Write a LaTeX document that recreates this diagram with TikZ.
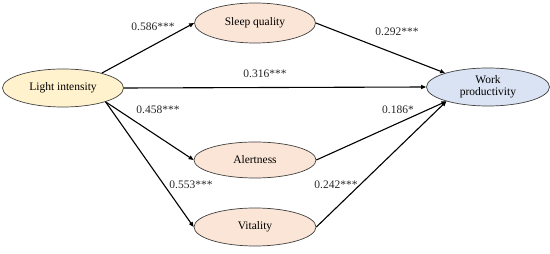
\documentclass[tikz,border=0pt]{standalone}
\usepackage{fontspec}
\setmainfont{Liberation Serif}
\usetikzlibrary{shapes.geometric,arrows.meta}
\definecolor{yellowfill}{HTML}{FFF2CC}
\definecolor{peachfill}{HTML}{FBE5D6}
\definecolor{bluefill}{HTML}{DAE3F3}
\definecolor{edgegray}{HTML}{404040}
\begin{document}
\begin{tikzpicture}[x=1pt,y=1pt,
  var/.style={ellipse,draw=edgegray,line width=0.7pt,inner sep=0pt,
    font=\fontsize{11.5}{12.5}\selectfont,align=center},
  path/.style={line width=1.1pt,-{Triangle[length=5pt,width=4pt]}},
  coef/.style={font=\fontsize{11.5}{12.5}\selectfont,text=black!85,inner sep=0pt}]
\useasboundingbox (0,0) rectangle (550,254);
\node[var,fill=yellowfill,minimum width=121pt,minimum height=38pt] (light) at (63,166) {Light intensity};
\node[var,fill=peachfill,minimum width=121pt,minimum height=40pt] (sleep) at (255,231) {Sleep quality};
\node[var,fill=bluefill,minimum width=123pt,minimum height=38pt] (work) at (488,167) {Work\\productivity};
\node[var,fill=peachfill,minimum width=122pt,minimum height=36pt] (alert) at (255,94) {Alertness};
\node[var,fill=peachfill,minimum width=122pt,minimum height=38pt] (vital) at (255,27) {Vitality};
\draw[path] (light.21) -- (sleep.west);
\draw[path] (light.east) -- (work.west);
\draw[path] (light.-18) -- (alert.west);
\draw[path] (light.-18) -- (vital.west);
\draw[path] (sleep.east) -- (work.162);
\draw[path] (alert.east) -- (work.199);
\draw[path] (vital.east) -- (work.199);
\node[coef] (c1) at (153,227) {0.586***};
\node[coef] (c2) at (265,180) {0.316***};
\node[coef] (c3) at (158,144) {0.458***};
\node[coef] (c4) at (397,222) {0.292***};
\node[coef] (c5) at (398,144) {0.186*};
\node[coef] (c6) at (191,69) {0.553***};
\node[coef] (c7) at (336,69) {0.242***};
\end{tikzpicture}
\end{document}
